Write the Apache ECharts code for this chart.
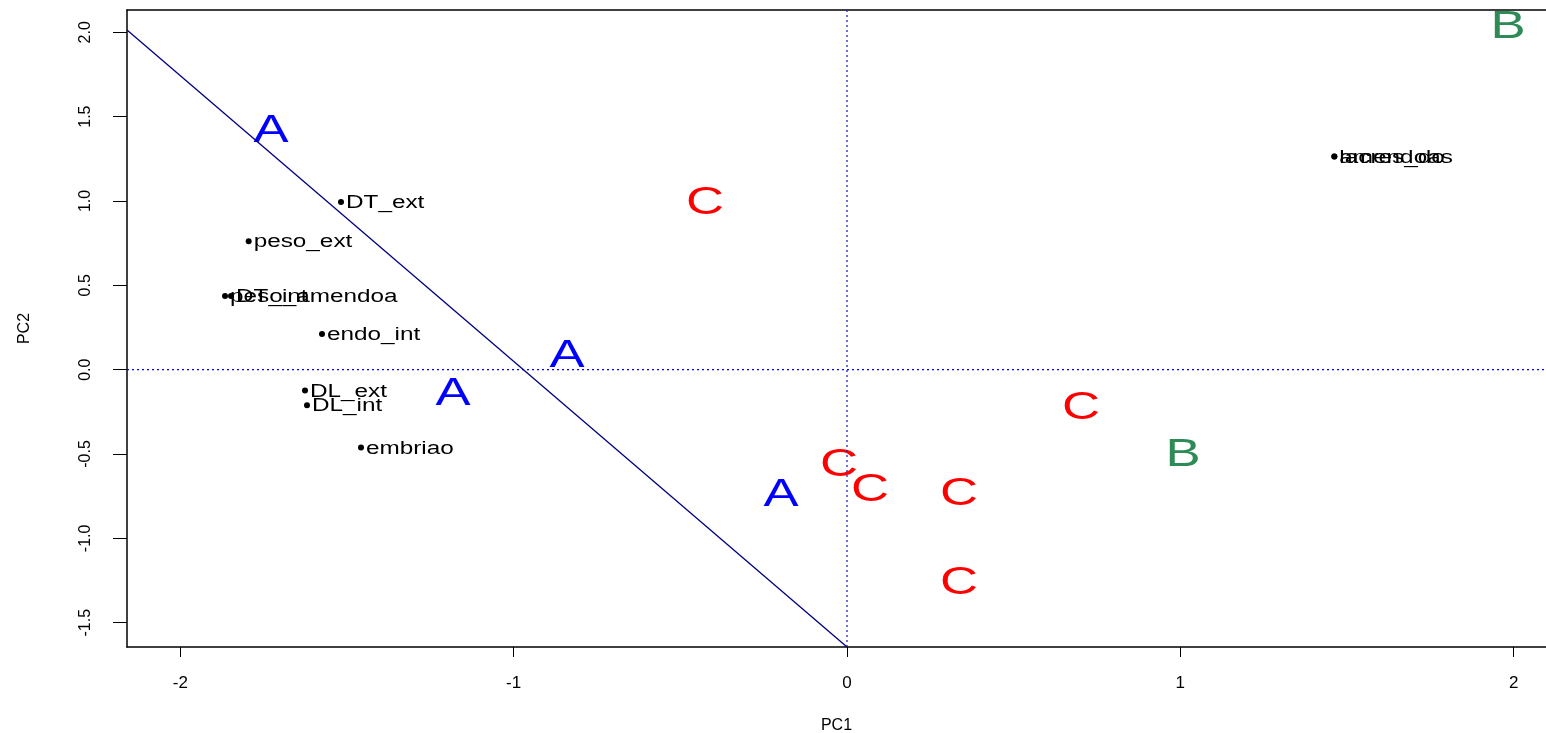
<!DOCTYPE html>
<html>
<head>
<meta charset="utf-8">
<script src="https://cdn.jsdelivr.net/npm/echarts@6/dist/echarts.min.js"></script>
<style>html,body{margin:0;padding:0;background:#fff}#c{width:1546px;height:733px}</style>
</head>
<body>
<div id="c"></div>
<script>
// Group letters (observations)
const groupLabels = ['A','A','A','A','C','C','C','C','C','C','B','B'];
const groupX = [-1.728, -0.840, -1.182, -0.198, -0.426, -0.024, 0.069, 0.336, 0.336, 0.702, 1.008, 1.983];
const groupY = [1.434, 0.099, -0.126, -0.725, 1.005, -0.547, -0.696, -0.720, -1.248, -0.210, -0.488, 2.046];
const groupColors = {A: '#0000FF', B: '#2E8B57', C: '#FF0000'};

// Variable points
const varNames = ['DT_ext', 'peso_ext', 'peso_amendoa', 'DT_int', 'endo_int', 'DL_ext', 'DL_int', 'embriao', 'amendoas', 'lacres_do'];
const varX = [-1.518, -1.795, -1.866, -1.848, -1.575, -1.626, -1.620, -1.458, 1.462, 1.462];
const varY = [0.994, 0.761, 0.437, 0.437, 0.212, -0.124, -0.211, -0.462, 1.263, 1.263];

// Separating line
const lineX = [-2.16, 0];
const lineY = [2.014, -1.644];

// Axes
const xTicks = [-2, -1, 0, 1, 2];
const yTicks = [-1.5, -1.0, -0.5, 0.0, 0.5, 1.0, 1.5, 2.0];
const xRange = [-2.16, 2.097];
const yRange = [-1.644, 2.132];

const FONT = 'Liberation Sans, Arial, sans-serif';
const STRETCH = 1.35;

const chart = echarts.init(document.getElementById('c'), null, {renderer: 'canvas'});

const groupData = groupLabels.map((g, i) => [groupX[i], groupY[i], g]);
const varData = varNames.map((n, i) => [varX[i], varY[i], n]);

const lineAx = {show: true, onZero: false, lineStyle: {color: '#000', width: 1.5}};

chart.setOption({
  backgroundColor: '#fff',
  animation: false,
  grid: {left: 127, top: 10, right: 0, bottom: 86, show: false, containLabel: false, outerBoundsMode: 'none'},
  xAxis: [{
    type: 'value', min: xRange[0], max: xRange[1], position: 'bottom',
    name: 'PC1', nameLocation: 'middle', nameGap: 71,
    nameTextStyle: {fontFamily: FONT, fontSize: 16, color: '#000'},
    splitLine: {show: false},
    axisLine: lineAx,
    axisTick: {show: true, length: 10, customValues: xTicks, lineStyle: {color: '#000'}},
    axisLabel: {customValues: xTicks, margin: 28, fontFamily: FONT, fontSize: 17, color: '#000', formatter: v => String(v)}
  }, {
    type: 'value', min: xRange[0], max: xRange[1], position: 'top',
    splitLine: {show: false}, axisLine: lineAx, axisTick: {show: false}, axisLabel: {show: false}
  }],
  yAxis: {
    type: 'value', min: yRange[0], max: yRange[1], position: 'left',
    name: 'PC2', nameLocation: 'middle', nameGap: 94, nameRotate: 90,
    nameTextStyle: {fontFamily: FONT, fontSize: 16, color: '#000'},
    splitLine: {show: false},
    axisLine: lineAx,
    axisTick: {show: true, length: 14, customValues: yTicks, lineStyle: {color: '#000'}},
    axisLabel: {customValues: yTicks, margin: 33, rotate: 90, fontFamily: FONT, fontSize: 16, color: '#000', formatter: v => v.toFixed(1)}
  },
  series: [
    {
      type: 'line', data: [[xRange[0], 0], [xRange[1], 0]], symbol: 'none', silent: true,
      lineStyle: {color: '#0000ff', width: 1.2, type: [2, 3]}
    },
    {
      type: 'line', data: [[0, yRange[0]], [0, yRange[1]]], symbol: 'none', silent: true,
      lineStyle: {color: '#2323c8', width: 1.3, type: [2, 3]}
    },
    {
      type: 'line', data: lineX.map((x, i) => [x, lineY[i]]), symbol: 'none', silent: true,
      lineStyle: {color: '#000080', width: 1.3}
    },
    {
      type: 'custom', clip: false, silent: true, data: varData,
      renderItem: (params, api) => {
        const p = api.coord([api.value(0), api.value(1)]);
        const name = varData[params.dataIndex][2];
        return {
          type: 'group',
          children: [
            {type: 'circle', shape: {cx: p[0], cy: p[1], r: 3}, style: {fill: '#000'}},
            {type: 'text', x: p[0] + 5, y: p[1] + 1, scaleX: STRETCH,
             style: {text: name, fontFamily: FONT, fontSize: 18, fill: '#000', align: 'left', verticalAlign: 'middle'}}
          ]
        };
      }
    },
    {
      type: 'custom', clip: false, silent: true, data: groupData,
      renderItem: (params, api) => {
        const p = api.coord([api.value(0), api.value(1)]);
        const g = groupData[params.dataIndex][2];
        return {type: 'text', x: p[0], y: p[1] + 3, scaleX: STRETCH,
          style: {text: g, fontFamily: FONT, fontSize: 39, fill: groupColors[g], align: 'center', verticalAlign: 'middle'}};
      }
    }
  ]
});
</script>
</body>
</html>
